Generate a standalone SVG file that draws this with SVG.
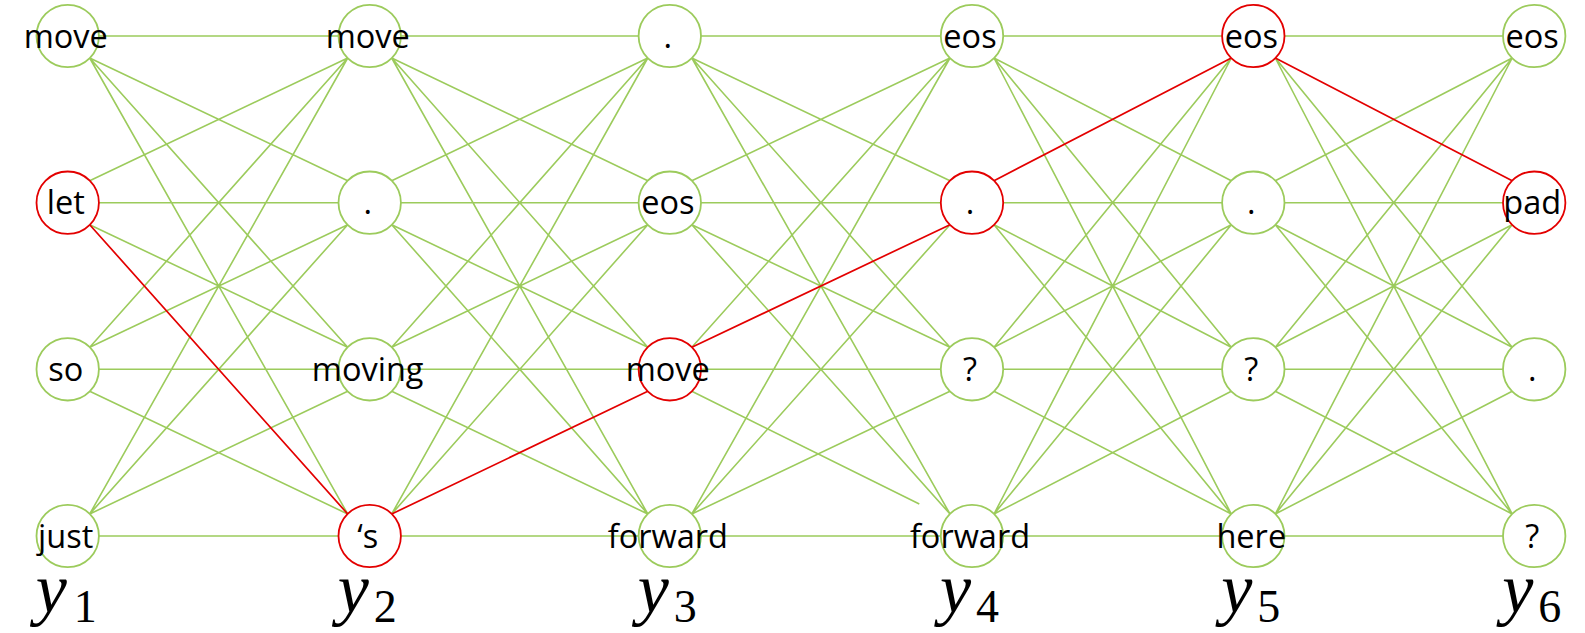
<svg xmlns="http://www.w3.org/2000/svg" width="1585" height="633" viewBox="0 0 1585 633">
<style>
.e{fill:none;stroke:#9ccb5c;stroke-width:1.6}
.r{fill:none;stroke:#e30000;stroke-width:1.7}
.n circle{fill:#fff;stroke:#9ccb5c;stroke-width:1.8}
.n.hl circle{stroke:#e30000}
.n text{font-family:"Open Sans","Liberation Sans",sans-serif;font-size:32.5px;fill:#000;text-anchor:middle}
.lab{font-family:"Liberation Serif","DejaVu Serif",serif;fill:#000}
.lab .v{font-style:italic;font-size:70px}
.lab .d{font-size:46px}
</style>
<rect width="1585" height="633" fill="#fff"/>
<g id="connectors">
<path class="e" d="M98.9 36H338.5M98.9 202.7H338.5M98.9 369.3H338.5M98.9 536H338.5M89.7 58L347.7 180.7M89.7 58L347.7 347.3M89.7 58L347.7 514M89.7 224.7L347.7 347.3M89.7 391.3L347.7 514M89.7 180.7L347.7 58M89.7 347.3L347.7 58M89.7 347.3L347.7 224.7M89.7 514L347.7 58M89.7 514L347.7 224.7M89.7 514L347.7 391.3"/>
<path class="e" d="M400.9 36H638.6M400.9 202.7H638.6M400.9 369.3H638.6M400.9 536H638.6M391.7 58L647.8 180.7M391.7 58L647.8 347.3M391.7 58L647.8 514M391.7 224.7L647.8 347.3M391.7 224.7L647.8 514M391.7 391.3L647.8 514M391.7 180.7L647.8 58M391.7 347.3L647.8 58M391.7 347.3L647.8 224.7M391.7 514L647.8 58M391.7 514L647.8 224.7"/>
<path class="e" d="M701 36H940.8M701 202.7H940.8M701 369.3H940.8M701 536H940.8M691.8 58L950 180.7M691.8 58L950 347.3M691.8 58L950 514M691.8 224.7L950 347.3M691.8 224.7L950 514M691.8 391.3L919.3 504M691.8 180.7L950 58M691.8 347.3L950 58M691.8 514L950 58M691.8 514L950 224.7M691.8 514L950 391.3"/>
<path class="e" d="M1003.2 36H1222.1M1003.2 202.7H1222.1M1003.2 369.3H1222.1M1003.2 536H1222.1M994 58L1231.3 180.7M994 58L1231.3 347.3M994 58L1231.3 514M994 224.7L1231.3 347.3M994 224.7L1231.3 514M994 391.3L1231.3 514M994 347.3L1231.3 58M994 347.3L1231.3 224.7M994 514L1231.3 58M994 514L1231.3 224.7M994 514L1231.3 391.3"/>
<path class="e" d="M1284.5 36H1503M1284.5 202.7H1503M1284.5 369.3H1503M1284.5 536H1503M1275.3 58L1512.2 347.3M1275.3 58L1512.2 514M1275.3 224.7L1512.2 347.3M1275.3 224.7L1512.2 514M1275.3 391.3L1512.2 514M1275.3 180.7L1512.2 58M1275.3 347.3L1512.2 58M1275.3 347.3L1512.2 224.7M1275.3 514L1512.2 58M1275.3 514L1512.2 224.7M1275.3 514L1512.2 391.3"/>
<path class="r" d="M89.7 224.7L347.7 514M391.7 514L647.8 391.3M691.8 347.3L950 224.7M994 180.7L1231.3 58M1275.3 58L1512.2 180.7"/>
</g>
<g id="n1_1" class="n"><circle cx="67.7" cy="36" r="31.2"/><text x="65.7" y="47.5">move</text></g>
<g id="n1_2" class="n hl"><circle cx="67.7" cy="202.7" r="31.2"/><text x="65.7" y="214.2">let</text></g>
<g id="n1_3" class="n"><circle cx="67.7" cy="369.3" r="31.2"/><text x="65.7" y="380.8">so</text></g>
<g id="n1_4" class="n"><circle cx="67.7" cy="536" r="31.2"/><text x="65.7" y="547.5">just</text></g>
<g id="n2_1" class="n"><circle cx="369.7" cy="36" r="31.2"/><text x="367.7" y="47.5">move</text></g>
<g id="n2_2" class="n"><circle cx="369.7" cy="202.7" r="31.2"/><text x="367.7" y="214.2">.</text></g>
<g id="n2_3" class="n"><circle cx="369.7" cy="369.3" r="31.2"/><text x="367.7" y="380.8">moving</text></g>
<g id="n2_4" class="n hl"><circle cx="369.7" cy="536" r="31.2"/><text x="367.7" y="547.5">‘s</text></g>
<g id="n3_1" class="n"><circle cx="669.8" cy="36" r="31.2"/><text x="667.8" y="47.5">.</text></g>
<g id="n3_2" class="n"><circle cx="669.8" cy="202.7" r="31.2"/><text x="667.8" y="214.2">eos</text></g>
<g id="n3_3" class="n hl"><circle cx="669.8" cy="369.3" r="31.2"/><text x="667.8" y="380.8">move</text></g>
<g id="n3_4" class="n"><circle cx="669.8" cy="536" r="31.2"/><text x="667.8" y="547.5">forward</text></g>
<g id="n4_1" class="n"><circle cx="972" cy="36" r="31.2"/><text x="970" y="47.5">eos</text></g>
<g id="n4_2" class="n hl"><circle cx="972" cy="202.7" r="31.2"/><text x="970" y="214.2">.</text></g>
<g id="n4_3" class="n"><circle cx="972" cy="369.3" r="31.2"/><text x="970" y="380.8">?</text></g>
<g id="n4_4" class="n"><circle cx="972" cy="536" r="31.2"/><text x="970" y="547.5">forward</text></g>
<g id="n5_1" class="n hl"><circle cx="1253.3" cy="36" r="31.2"/><text x="1251.3" y="47.5">eos</text></g>
<g id="n5_2" class="n"><circle cx="1253.3" cy="202.7" r="31.2"/><text x="1251.3" y="214.2">.</text></g>
<g id="n5_3" class="n"><circle cx="1253.3" cy="369.3" r="31.2"/><text x="1251.3" y="380.8">?</text></g>
<g id="n5_4" class="n"><circle cx="1253.3" cy="536" r="31.2"/><text x="1251.3" y="547.5">here</text></g>
<g id="n6_1" class="n"><circle cx="1534.2" cy="36" r="31.2"/><text x="1532.2" y="47.5">eos</text></g>
<g id="n6_2" class="n hl"><circle cx="1534.2" cy="202.7" r="31.2"/><text x="1532.2" y="214.2">pad</text></g>
<g id="n6_3" class="n"><circle cx="1534.2" cy="369.3" r="31.2"/><text x="1532.2" y="380.8">.</text></g>
<g id="n6_4" class="n"><circle cx="1534.2" cy="536" r="31.2"/><text x="1532.2" y="547.5">?</text></g>
<g id="labels" class="lab">
<text x="35.7" y="612"><tspan class="v">y</tspan><tspan class="d" x="73.7" y="622">1</tspan></text>
<text x="337.7" y="612"><tspan class="v">y</tspan><tspan class="d" x="373.7" y="622">2</tspan></text>
<text x="637.8" y="612"><tspan class="v">y</tspan><tspan class="d" x="673.8" y="622">3</tspan></text>
<text x="940" y="612"><tspan class="v">y</tspan><tspan class="d" x="976" y="622">4</tspan></text>
<text x="1221.3" y="612"><tspan class="v">y</tspan><tspan class="d" x="1257.3" y="622">5</tspan></text>
<text x="1502.2" y="612"><tspan class="v">y</tspan><tspan class="d" x="1538.2" y="622">6</tspan></text>
</g>
</svg>
